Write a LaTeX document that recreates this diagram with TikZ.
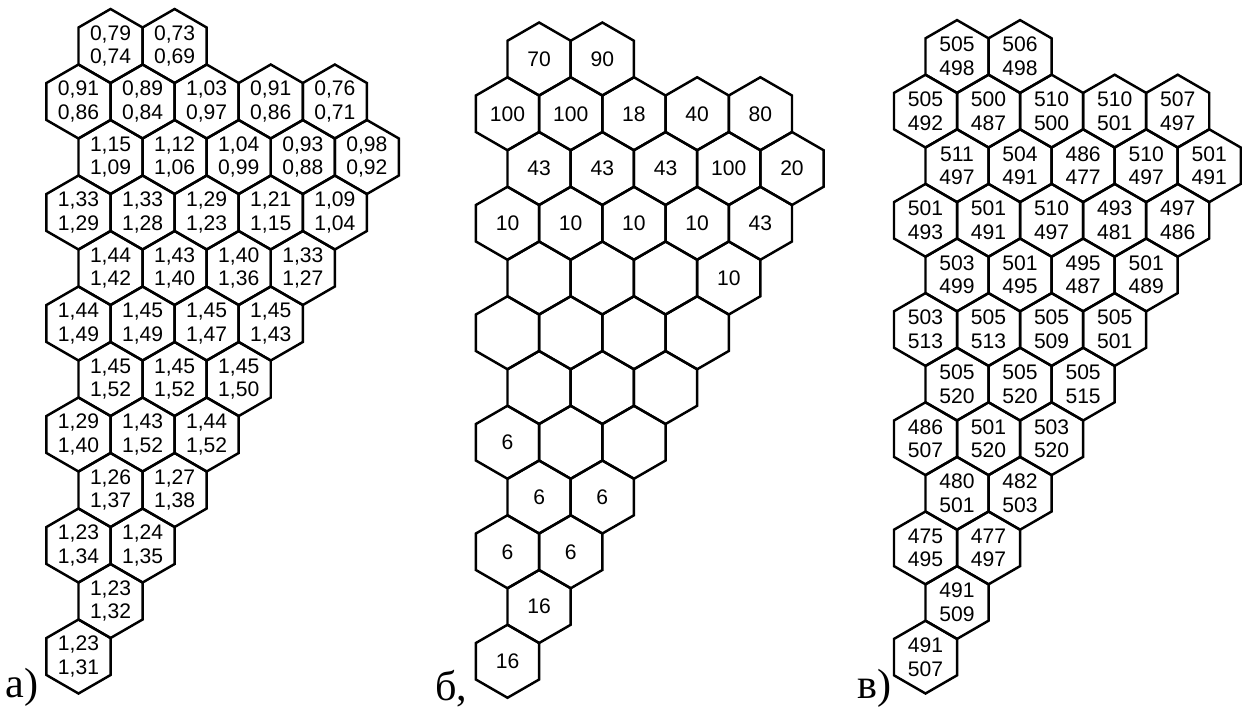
\documentclass[tikz,border=0pt]{standalone}
\usepackage{fontspec}
\setmainfont{Liberation Serif}
\newfontfamily\cellfont{Liberation Sans}
\usetikzlibrary{shapes.geometric}

\begin{document}
\begin{tikzpicture}[
  hexcell/.style={regular polygon, regular polygon sides=6, shape border rotate=30, draw, line width=1.4pt, minimum size=1.48cm, inner sep=0pt, align=center, font=\cellfont\fontsize{12}{13.4}\selectfont},
  panel label/.style={anchor=base west, inner sep=0pt, font=\fontsize{24}{28}\selectfont}
]
  \useasboundingbox (0,0) rectangle (24.88,-14.22);

  % panel a
  \begin{scope}[shift={(1.57,-0.92)}, x=1.2817cm, y=-1.11cm]
  \node[hexcell] (a1)  at (0.5,0)  {0,79\\0,74};
  \node[hexcell] (a2)  at (1.5,0)  {0,73\\0,69};
  \node[hexcell] (a3)  at (0,1)    {0,91\\0,86};
  \node[hexcell] (a4)  at (1,1)    {0,89\\0,84};
  \node[hexcell] (a5)  at (2,1)    {1,03\\0,97};
  \node[hexcell] (a6)  at (3,1)    {0,91\\0,86};
  \node[hexcell] (a7)  at (4,1)    {0,76\\0,71};
  \node[hexcell] (a8)  at (0.5,2)  {1,15\\1,09};
  \node[hexcell] (a9)  at (1.5,2)  {1,12\\1,06};
  \node[hexcell] (a10) at (2.5,2)  {1,04\\0,99};
  \node[hexcell] (a11) at (3.5,2)  {0,93\\0,88};
  \node[hexcell] (a12) at (4.5,2)  {0,98\\0,92};
  \node[hexcell] (a13) at (0,3)    {1,33\\1,29};
  \node[hexcell] (a14) at (1,3)    {1,33\\1,28};
  \node[hexcell] (a15) at (2,3)    {1,29\\1,23};
  \node[hexcell] (a16) at (3,3)    {1,21\\1,15};
  \node[hexcell] (a17) at (4,3)    {1,09\\1,04};
  \node[hexcell] (a18) at (0.5,4)  {1,44\\1,42};
  \node[hexcell] (a19) at (1.5,4)  {1,43\\1,40};
  \node[hexcell] (a20) at (2.5,4)  {1,40\\1,36};
  \node[hexcell] (a21) at (3.5,4)  {1,33\\1,27};
  \node[hexcell] (a22) at (0,5)    {1,44\\1,49};
  \node[hexcell] (a23) at (1,5)    {1,45\\1,49};
  \node[hexcell] (a24) at (2,5)    {1,45\\1,47};
  \node[hexcell] (a25) at (3,5)    {1,45\\1,43};
  \node[hexcell] (a26) at (0.5,6)  {1,45\\1,52};
  \node[hexcell] (a27) at (1.5,6)  {1,45\\1,52};
  \node[hexcell] (a28) at (2.5,6)  {1,45\\1,50};
  \node[hexcell] (a29) at (0,7)    {1,29\\1,40};
  \node[hexcell] (a30) at (1,7)    {1,43\\1,52};
  \node[hexcell] (a31) at (2,7)    {1,44\\1,52};
  \node[hexcell] (a32) at (0.5,8)  {1,26\\1,37};
  \node[hexcell] (a33) at (1.5,8)  {1,27\\1,38};
  \node[hexcell] (a34) at (0,9)    {1,23\\1,34};
  \node[hexcell] (a35) at (1,9)    {1,24\\1,35};
  \node[hexcell] (a36) at (0.5,10) {1,23\\1,32};
  \node[hexcell] (a37) at (0,11)   {1,23\\1,31};
  \end{scope}

  % panel b
  \begin{scope}[shift={(10.15,-1.18)}, x=1.2644cm, y=-1.095cm, hexcell/.append style={minimum size=1.46cm}]
  \node[hexcell] (b1)  at (0.5,0)  {70};
  \node[hexcell] (b2)  at (1.5,0)  {90};
  \node[hexcell] (b3)  at (0,1)    {100};
  \node[hexcell] (b4)  at (1,1)    {100};
  \node[hexcell] (b5)  at (2,1)    {18};
  \node[hexcell] (b6)  at (3,1)    {40};
  \node[hexcell] (b7)  at (4,1)    {80};
  \node[hexcell] (b8)  at (0.5,2)  {43};
  \node[hexcell] (b9)  at (1.5,2)  {43};
  \node[hexcell] (b10) at (2.5,2)  {43};
  \node[hexcell] (b11) at (3.5,2)  {100};
  \node[hexcell] (b12) at (4.5,2)  {20};
  \node[hexcell] (b13) at (0,3)    {10};
  \node[hexcell] (b14) at (1,3)    {10};
  \node[hexcell] (b15) at (2,3)    {10};
  \node[hexcell] (b16) at (3,3)    {10};
  \node[hexcell] (b17) at (4,3)    {43};
  \node[hexcell] (b18) at (0.5,4)  {};
  \node[hexcell] (b19) at (1.5,4)  {};
  \node[hexcell] (b20) at (2.5,4)  {};
  \node[hexcell] (b21) at (3.5,4)  {10};
  \node[hexcell] (b22) at (0,5)    {};
  \node[hexcell] (b23) at (1,5)    {};
  \node[hexcell] (b24) at (2,5)    {};
  \node[hexcell] (b25) at (3,5)    {};
  \node[hexcell] (b26) at (0.5,6)  {};
  \node[hexcell] (b27) at (1.5,6)  {};
  \node[hexcell] (b28) at (2.5,6)  {};
  \node[hexcell] (b29) at (0,7)    {6};
  \node[hexcell] (b30) at (1,7)    {};
  \node[hexcell] (b31) at (2,7)    {};
  \node[hexcell] (b32) at (0.5,8)  {6};
  \node[hexcell] (b33) at (1.5,8)  {6};
  \node[hexcell] (b34) at (0,9)    {6};
  \node[hexcell] (b35) at (1,9)    {6};
  \node[hexcell] (b36) at (0.5,10) {16};
  \node[hexcell] (b37) at (0,11)   {16};
  \end{scope}

  % panel c
  \begin{scope}[shift={(18.51,-1.13)}, x=1.261cm, y=-1.092cm, hexcell/.append style={minimum size=1.456cm}]
  \node[hexcell] (c1)  at (0.5,0)  {505\\498};
  \node[hexcell] (c2)  at (1.5,0)  {506\\498};
  \node[hexcell] (c3)  at (0,1)    {505\\492};
  \node[hexcell] (c4)  at (1,1)    {500\\487};
  \node[hexcell] (c5)  at (2,1)    {510\\500};
  \node[hexcell] (c6)  at (3,1)    {510\\501};
  \node[hexcell] (c7)  at (4,1)    {507\\497};
  \node[hexcell] (c8)  at (0.5,2)  {511\\497};
  \node[hexcell] (c9)  at (1.5,2)  {504\\491};
  \node[hexcell] (c10) at (2.5,2)  {486\\477};
  \node[hexcell] (c11) at (3.5,2)  {510\\497};
  \node[hexcell] (c12) at (4.5,2)  {501\\491};
  \node[hexcell] (c13) at (0,3)    {501\\493};
  \node[hexcell] (c14) at (1,3)    {501\\491};
  \node[hexcell] (c15) at (2,3)    {510\\497};
  \node[hexcell] (c16) at (3,3)    {493\\481};
  \node[hexcell] (c17) at (4,3)    {497\\486};
  \node[hexcell] (c18) at (0.5,4)  {503\\499};
  \node[hexcell] (c19) at (1.5,4)  {501\\495};
  \node[hexcell] (c20) at (2.5,4)  {495\\487};
  \node[hexcell] (c21) at (3.5,4)  {501\\489};
  \node[hexcell] (c22) at (0,5)    {503\\513};
  \node[hexcell] (c23) at (1,5)    {505\\513};
  \node[hexcell] (c24) at (2,5)    {505\\509};
  \node[hexcell] (c25) at (3,5)    {505\\501};
  \node[hexcell] (c26) at (0.5,6)  {505\\520};
  \node[hexcell] (c27) at (1.5,6)  {505\\520};
  \node[hexcell] (c28) at (2.5,6)  {505\\515};
  \node[hexcell] (c29) at (0,7)    {486\\507};
  \node[hexcell] (c30) at (1,7)    {501\\520};
  \node[hexcell] (c31) at (2,7)    {503\\520};
  \node[hexcell] (c32) at (0.5,8)  {480\\501};
  \node[hexcell] (c33) at (1.5,8)  {482\\503};
  \node[hexcell] (c34) at (0,9)    {475\\495};
  \node[hexcell] (c35) at (1,9)    {477\\497};
  \node[hexcell] (c36) at (0.5,10) {491\\509};
  \node[hexcell] (c37) at (0,11)   {491\\507};
  \end{scope}

  % panel labels
  \node[panel label] (la) at (0.1,-13.94)   {а)};
  \node[panel label] (lb) at (8.7,-14.0)    {б,};
  \node[panel label] (lc) at (17.14,-13.96) {в)};
\end{tikzpicture}
\end{document}
